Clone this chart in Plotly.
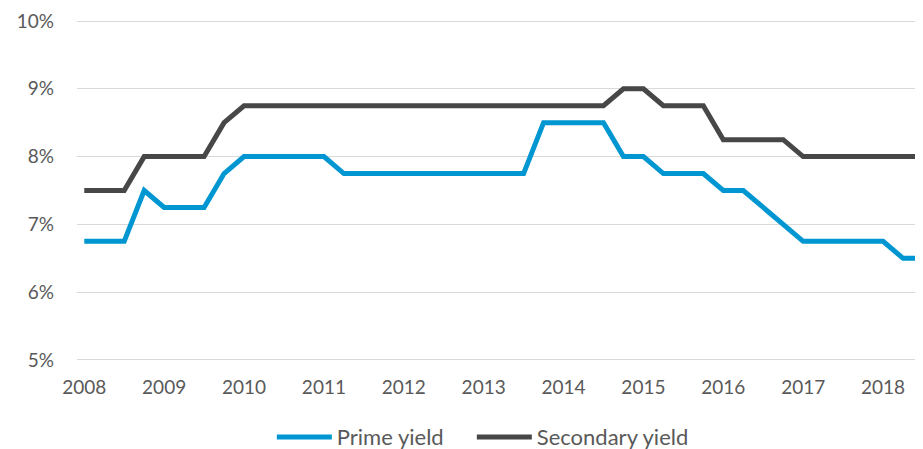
import plotly.graph_objects as go

years = list(range(2008, 2019))
quarter_x = [2008 + i * 0.25 for i in range(43)]  # 2008 Q1 .. 2018 Q3

prime_yield = [6.75, 6.75, 6.75, 7.5,
               7.25, 7.25, 7.25, 7.75,
               8.0, 8.0, 8.0, 8.0,
               8.0, 7.75, 7.75, 7.75,
               7.75, 7.75, 7.75, 7.75,
               7.75, 7.75, 7.75, 8.5,
               8.5, 8.5, 8.5, 8.0,
               8.0, 7.75, 7.75, 7.75,
               7.5, 7.5, 7.25, 7.0,
               6.75, 6.75, 6.75, 6.75,
               6.75, 6.5, 6.5]

secondary_yield = [7.5, 7.5, 7.5, 8.0,
                   8.0, 8.0, 8.0, 8.5,
                   8.75, 8.75, 8.75, 8.75,
                   8.75, 8.75, 8.75, 8.75,
                   8.75, 8.75, 8.75, 8.75,
                   8.75, 8.75, 8.75, 8.75,
                   8.75, 8.75, 8.75, 9.0,
                   9.0, 8.75, 8.75, 8.75,
                   8.25, 8.25, 8.25, 8.25,
                   8.0, 8.0, 8.0, 8.0,
                   8.0, 8.0, 8.0]

y_ticks = [5, 6, 7, 8, 9, 10]
y_tick_labels = [f"{v}%" for v in y_ticks]
x_tick_labels = [str(y) for y in years]

FONT = "Lato"
TXT = "#595959"

fig = go.Figure()
fig.add_trace(go.Scatter(x=quarter_x, y=prime_yield, mode="lines", name="Prime yield",
                         line=dict(color="#0096D1", width=5), legend="legend"))
fig.add_trace(go.Scatter(x=quarter_x, y=secondary_yield, mode="lines", name="Secondary yield",
                         line=dict(color="#474747", width=5), legend="legend2"))

legend_common = dict(orientation="h", xanchor="left",
                     yref="container", y=0.027, yanchor="middle",
                     font=dict(family=FONT, size=22, color=TXT), itemwidth=55)

# page body has an 8px margin, so the figure is sized/offset to compensate
fig.update_layout(
    width=915, height=441,
    margin=dict(l=69, r=0, t=11, b=87, autoexpand=False),
    paper_bgcolor="white", plot_bgcolor="white",
    font=dict(family=FONT, size=19, color=TXT),
    showlegend=True,
    legend=dict(x=0.2303, **legend_common),
    legend2=dict(x=0.4667, **legend_common),
    xaxis=dict(range=[2007.909, 2018.5], tickmode="array", tickvals=years,
               ticktext=x_tick_labels, showgrid=False, zeroline=False, showline=False,
               ticks="", ticklabelstandoff=12, automargin=False),
    yaxis=dict(range=[4.97, 10.03], tickmode="array", tickvals=y_ticks, ticktext=y_tick_labels,
               showgrid=True, gridcolor="#D9D9D9", gridwidth=1, zeroline=False,
               showline=False, ticks="", ticklabelstandoff=22, automargin=False),
)

fig.write_html("out.html")
